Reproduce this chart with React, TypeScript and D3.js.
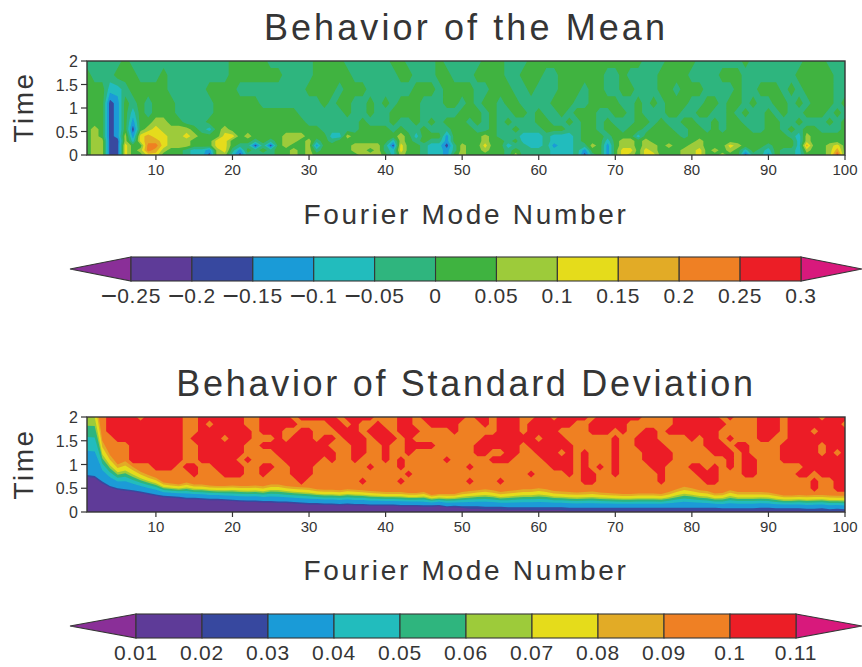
import React from "react";
import * as d3 from "d3";

const W = 862, H = 667;

// ---------- top panel: mean, read as band letters per Fourier mode (1..100), by time row
const meanTimes = [2, 1.7, 1.4, 1.1, 0.9, 0.7, 0.55, 0.4, 0.3, 0.2, 0.1, 0];
const meanRows = [
  "fffffgffff fffffffffg ggggffffff ggggffffff ggffffgfff ffgggfffgg gggggggggg gggfffgggg ffffffgfff ffffgggfff",
  "gfffgggfff gffffffffg ggggggffff gggggfffff fggfffggff fggggffggg ffggggggff gffffggggf fffgggffff fffgggggff",
  "gggeefgggg gfffffgggg fffffffffg gggfgggfff fffgggfggg gffgggffgf ffgggfggff ggfffggfgg gffffgffgg gfgfggggff",
  "gggcdgfgfg ggfffffggg gggfffffff fgfggffgfg fgggfffggf gfggfggfff fgggffgggg ffgfgfgggf fggfggfgff ggfgfgggfg",
  "gggcdgegfg ggfffffggg ggggggggff ffffgffgff ggggfffffg ggfgffggfg ffgfgggffg gfgfffggff ggffgfgffg fgffgggfgf",
  "gggcdgdggh hggfffgggg gggggggggf ffffffgfff gffgfgfggg fgfgfgfffg gffgfggfgf ffggfgffgg ffgfggfffg gffgfffgfg",
  "ghgcdgcghi hhhhgfeghg gggggggggg gfffffgggg fgffgfffgg gffgffgfff gggffggfgg fggfgggffg gfgfgggffg gfgfggfffg",
  "ghgcdhdiji ihhihgggii ghgggghhhg ggeehggggg ghgegggdgg gghgfffeee feeefgggfg ggegggggfg gggggggggg ggfehggggg",
  "ghhccheijj ihhhgggiig ggfgfghhgh fgfggggggg ehgfgffdgg gghggfgeee feeefgggeg hhghgggggg hggggggggg gggehggggg",
  "ghhcciggkk ihhhgggiig ffcfcghggh dgggghhhhf ciggfeecfh ggiggeffee fdeeffhgdg hhghhghggh hgggihgggf gggejgghig",
  "ghhccighkj hggfeedhif dgfgfgghgh fgggghhghf eiggfeedfh gghggfgfff feeefdggdg iigihggghh ighghgegfe gffehgghjg",
  "ghhcciggii gggfeechhe cffffgghgh gggggghhhg ehggfeedgh gggggfhfff feeefcfgdg ihgiiggghh igghggcffd gffeggghlg",
];
const meanBandLetters = "abcdefghijklm";
const meanBandValues = [-0.275, -0.225, -0.175, -0.125, -0.075, -0.025, 0.025, 0.075, 0.125, 0.175, 0.225, 0.275, 0.325];
const meanLevels = [-0.25, -0.2, -0.15, -0.1, -0.05, 0, 0.05, 0.1, 0.15, 0.2, 0.25, 0.3];
const meanLabels = ["\u22120.25", "\u22120.2", "\u22120.15", "\u22120.1", "\u22120.05", "0", "0.05", "0.1", "0.15", "0.2", "0.25", "0.3"];
const meanColors = ["#8a2f98", "#5e3b98", "#37489f", "#1a9bd7", "#22bcbd", "#2fb57e", "#3fb340", "#9dcb3a", "#e5dc1b", "#e2ab26", "#ef8024", "#ec1e26", "#d8197c"];

// ---------- bottom panel: standard deviation
const sdTimes = [2, 1.85, 1.7, 1.55, 1.4, 1.25, 1.1, 0.95, 0.8, 0.65, 0.5, 0.35];
const sdRedRows = [
  "ooorrrrorr rrroorrrrr roorrrrorr rrrorrrroo orrorrrrrr orrorrroor rorrrrorrr rrroooorrr rrrorooorr rorrrrorrr",
  "ooorrrrrrr rrroororrr roorrrrroo oorrorooro orroorrrro oororrrorr rrrroorrrr roooooorrr rrrroooorr rorrrrrrro",
  "ooorrrrrrr rrroorrrrr rrorrroorr ooorrrorrr orrrooooro oooorrrorr rroooorrro roorrorrrr rrrooooorr rorrrorrrr",
  "oooorrrrrr rrrorrrror rrooororrr orrorrrorr rorooooooo oorrrrrrro rrroooooor oorrroooor orrorooorr oorrrrrrrr",
  "oooooorrrr rrroorrrrr roorrrrrrr rrooorroor oorrrroooo orrrrrrorr rrrrooooor oorrrroooo orrrorrooo orrrrrorrr",
  "oooooorrrr rrroorrrrr roooorrrrr rrroorroor oorooooooo orroorroor rrororooor ooorrrrooo oorrrorooo orrrrroror",
  "oooooorrrr rrroorrrrr oroooorrrr roroorooor oroooooroo ooorrroooo rrrrorooor ooorrrrooo oooororroo orrrrrrrrr",
  "ooooooooor rrorroorrr roorroorrr oooooooroo oroooooooo rooooooooo orrrororor oooorrooor rorororroo oooorrrrrr",
  "oooooooooo oooorooorr roorooorrr oooooooooo oorooooooo ooooooooro ooororroor oooooroooo rrrooorroo ooorrorrrr",
  "oooooooooo oooooooooo ooooooooro oooooorooo oroooooooo rooorooooo ooooorrooo oooooroooo orrooooooo oooooroorr",
  "oooooooooo oooooooooo oooooooooo oooooooooo oooooooooo oooooooooo oooooooooo oooooooooo oooooooooo oooooroorr",
  "oooooooooo oooooooooo oooooooooo oooooooooo oooooooooo oooooooooo oooooooooo oooooooooo oooooooooo oooooooooo",
];
const purpleTop = [
  0.74, 0.72, 0.6, 0.52, 0.47, 0.45, 0.43, 0.4, 0.37, 0.34,
  0.31, 0.3, 0.29, 0.27, 0.27, 0.26, 0.25, 0.25, 0.24, 0.23,
  0.22, 0.21, 0.21, 0.2, 0.2, 0.19, 0.19, 0.18, 0.17, 0.16,
  0.16, 0.15, 0.15, 0.14, 0.15, 0.14, 0.14, 0.13, 0.13, 0.13,
  0.13, 0.12, 0.12, 0.12, 0.11, 0.11, 0.12, 0.1, 0.1, 0.09,
  0.07, 0.07, 0.06, 0.06, 0.06, 0.05, 0.05, 0.05, 0.04, 0.04,
  0.04, 0.04, 0.04, 0.03, 0.03, 0.03, 0.03, 0.03, 0.03, 0.03,
  0.03, 0.03, 0.03, 0.03, 0.03, 0.03, 0.03, 0.03, 0.03, 0.03,
  0.03, 0.03, 0.03, 0.03, 0.03, 0.03, 0.03, 0.03, 0.03, 0.03,
  0.03, 0.03, 0.03, 0.03, 0.02, 0.02, 0.02, 0.02, 0.02, 0.02,
];
const blueTop = [
  0.78, 0.76, 0.64, 0.55, 0.5, 0.48, 0.46, 0.43, 0.4, 0.37,
  0.34, 0.33, 0.32, 0.3, 0.3, 0.29, 0.28, 0.28, 0.27, 0.26,
  0.25, 0.24, 0.24, 0.23, 0.23, 0.22, 0.22, 0.21, 0.2, 0.19,
  0.19, 0.18, 0.18, 0.17, 0.18, 0.17, 0.17, 0.16, 0.16, 0.16,
  0.16, 0.15, 0.15, 0.15, 0.14, 0.14, 0.15, 0.12, 0.13, 0.12,
  0.12, 0.12, 0.11, 0.11, 0.11, 0.1, 0.1, 0.1, 0.1, 0.1,
  0.1, 0.1, 0.1, 0.09, 0.09, 0.09, 0.09, 0.09, 0.09, 0.09,
  0.09, 0.09, 0.09, 0.09, 0.09, 0.09, 0.09, 0.09, 0.09, 0.09,
  0.09, 0.09, 0.09, 0.08, 0.08, 0.08, 0.08, 0.08, 0.09, 0.09,
  0.08, 0.08, 0.08, 0.08, 0.07, 0.07, 0.08, 0.06, 0.07, 0.06,
];
const orangeFloor = [
  2.6, 2.6, 1.5, 1.2, 1.0, 1.07, 0.95, 0.85, 0.78, 0.72,
  0.62, 0.6, 0.58, 0.62, 0.58, 0.58, 0.56, 0.55, 0.55, 0.56,
  0.55, 0.55, 0.56, 0.54, 0.58, 0.58, 0.55, 0.53, 0.52, 0.51,
  0.48, 0.47, 0.47, 0.46, 0.48, 0.47, 0.46, 0.44, 0.43, 0.42,
  0.42, 0.42, 0.4, 0.4, 0.42, 0.36, 0.38, 0.38, 0.38, 0.42,
  0.44, 0.46, 0.48, 0.46, 0.42, 0.44, 0.46, 0.48, 0.48, 0.5,
  0.48, 0.44, 0.43, 0.42, 0.41, 0.42, 0.43, 0.41, 0.4, 0.39,
  0.38, 0.38, 0.39, 0.39, 0.39, 0.38, 0.42, 0.48, 0.53, 0.5,
  0.46, 0.44, 0.39, 0.4, 0.46, 0.42, 0.42, 0.42, 0.42, 0.41,
  0.38, 0.35, 0.35, 0.36, 0.35, 0.36, 0.36, 0.35, 0.34, 0.34,
];
// share of the blue-to-orange gap occupied up to each of the light blue .. gold edges
const bandShares = [0.28, 0.44, 0.57, 0.67, 0.85, 1];
const sdLabels = ["0.01", "0.02", "0.03", "0.04", "0.05", "0.06", "0.07", "0.08", "0.09", "0.1", "0.11"];
const sdColors = ["#8a2f98", "#5e3b98", "#37489f", "#1a9bd7", "#22bcbd", "#2fb57e", "#9dcb3a", "#e5dc1b", "#e2ab26", "#ef8024", "#ec1e26", "#d8197c"];

const modeTicks = [10, 20, 30, 40, 50, 60, 70, 80, 90, 100];
const timeTicks = [0, 0.5, 1, 1.5, 2];
const modes = d3.range(1, 101);

const INK = "#353535";
const FONT = "'Liberation Sans', Arial, sans-serif";
const x = d3.scaleLinear().domain([1, 100]).range([87, 845]);
const yMean = d3.scaleLinear().domain([0, 2]).range([155, 61]);
const ySd = d3.scaleLinear().domain([0, 2]).range([512, 417]);

function contourPaths(values: number[], times: number[], levels: number[], y: d3.ScaleLinear<number, number>) {
  const nx = values.length / times.length;
  const ny = times.length;
  const rowTime = d3.scaleLinear<number>().domain(times.map((_, i) => i)).range(times);
  const proj = d3.geoTransform({
    point(px: number, py: number) {
      const m = Math.max(0, Math.min(nx - 1, px - 0.5)) + 1;
      const r = Math.max(0, Math.min(ny - 1, py - 0.5));
      (this as any).stream.point(x(m), y(rowTime(r)));
    },
  });
  const path = d3.geoPath(proj);
  const cs = d3.contours().size([nx, ny]).thresholds(levels)(values);
  return cs.map((c) => path(c) || "");
}

function parse(rows: string[], f: (ch: string) => number) {
  return rows.flatMap((r) => r.replace(/ /g, "").split("").map(f));
}

function Frame({ y, title, titleY, titleSpacing, xTitleY, timeY }: any) {
  const [y0, y1] = y.range();
  return (
    <g>
      <rect x={87} y={y1} width={758} height={y0 - y1} fill="none" stroke={INK} strokeWidth={1.4} />
      {modeTicks.map((t) => (
        <g key={t}>
          <line x1={x(t)} x2={x(t)} y1={y0} y2={y0 + 5} stroke={INK} strokeWidth={1.2} />
          <text x={x(t)} y={y0 + 20} textAnchor="middle" fontSize={15} fill={INK} fontFamily={FONT}>{t}</text>
        </g>
      ))}
      {timeTicks.map((t) => (
        <g key={t}>
          <line x1={81} x2={87} y1={y(t)} y2={y(t)} stroke={INK} strokeWidth={1.2} />
          <text x={78} y={y(t) + 6} textAnchor="end" fontSize={16} fill={INK} fontFamily={FONT}>{t}</text>
        </g>
      ))}
      <text x={466} y={titleY} textAnchor="middle" fontSize={36} letterSpacing={titleSpacing} fill={INK} fontFamily={FONT}>{title}</text>
      <text x={466} y={xTitleY} textAnchor="middle" fontSize={28} letterSpacing={2.7} fill={INK} fontFamily={FONT}>Fourier Mode Number</text>
      <text transform={`translate(33,${timeY}) rotate(-90)`} textAnchor="middle" fontSize={28} letterSpacing={2.4} fill={INK} fontFamily={FONT}>Time</text>
    </g>
  );
}

function ColorBar({ x0, x1, y0, y1, colors, labels, labelY }: any) {
  const n = labels.length - 1;
  const bx = d3.scaleLinear().domain([0, n]).range([x0, x1]);
  const mid = (y0 + y1) / 2;
  const d = d3.line();
  return (
    <g stroke={INK} strokeWidth={1.1}>
      <path d={d([[x0, y0], [70, mid], [x0, y1]])! + "Z"} fill={colors[0]} />
      <path d={d([[x1, y0], [862, mid], [x1, y1]])! + "Z"} fill={colors[colors.length - 1]} />
      {d3.range(n).map((i) => (
        <rect key={i} x={bx(i)} y={y0} width={bx(i + 1) - bx(i)} height={y1 - y0} fill={colors[i + 1]} />
      ))}
      {labels.map((l: string, i: number) => {
        const neg = l.startsWith("\u2212");
        return (
          <text key={l} x={bx(i)} y={labelY} textAnchor="middle" fontSize={21} letterSpacing={0.8} fill={INK} stroke="none" fontFamily={FONT}>
            {neg ? <tspan fontSize={28} dy={2} letterSpacing={0}>{l[0]}</tspan> : null}
            {neg ? <tspan dy={-2}>{l.slice(1)}</tspan> : l}
          </text>
        );
      })}
    </g>
  );
}

export default function App() {
  const meanValues = parse(meanRows, (c) => meanBandValues[meanBandLetters.indexOf(c)]);
  const meanPaths = contourPaths(meanValues, meanTimes, meanLevels, yMean);

  const sdValues = parse(sdRedRows, (c) => (c === "r" ? 0.105 : 0.095));
  const redPath = contourPaths(sdValues, sdTimes, [0.1], ySd)[0];

  const edge = (k: number, s: number) => blueTop[k] + s * (orangeFloor[k] - blueTop[k]);
  const area = (top: (k: number) => number) =>
    d3.area<number>().x((m) => x(m)).y0(ySd(0)).y1((m) => ySd(top(m - 1)))(modes) || "";
  const bandAreas = [
    { c: sdColors[8], d: area((k) => edge(k, bandShares[5])) },
    { c: sdColors[7], d: area((k) => edge(k, bandShares[4])) },
    { c: sdColors[6], d: area((k) => edge(k, bandShares[3])) },
    { c: sdColors[5], d: area((k) => edge(k, bandShares[2])) },
    { c: sdColors[4], d: area((k) => edge(k, bandShares[1])) },
    { c: sdColors[3], d: area((k) => edge(k, bandShares[0])) },
    { c: sdColors[2], d: area((k) => blueTop[k]) },
    { c: sdColors[1], d: area((k) => purpleTop[k]) },
  ];

  return (
    <svg width={W} height={H} viewBox={`0 0 ${W} ${H}`} style={{ position: "absolute", left: 0, top: 0, background: "#fff" }}>
      <defs>
        <clipPath id="clipSd"><rect x={87} y={417} width={758} height={95} /></clipPath>
        <filter id="soft" x="0" y="0" width="1" height="1"><feGaussianBlur stdDeviation={0.6} /></filter>
      </defs>
      <g filter="url(#soft)">
        <rect x={87} y={61} width={758} height={94} fill={meanColors[0]} />
        {meanPaths.map((d, i) => <path key={i} d={d} fill={meanColors[i + 1]} />)}
      </g>
      <g clipPath="url(#clipSd)">
        <g filter="url(#soft)">
          <rect x={87} y={417} width={758} height={95} fill={sdColors[9]} />
          <path d={redPath} fill={sdColors[10]} />
          {bandAreas.map((b, i) => <path key={i} d={b.d} fill={b.c} />)}
        </g>
      </g>
      <Frame y={yMean} title="Behavior of the Mean" titleY={40} titleSpacing={3.1} xTitleY={224} timeY={107} />
      <Frame y={ySd} title="Behavior of Standard Deviation" titleY={396} titleSpacing={2.7} xTitleY={580} timeY={464} />
      <ColorBar x0={131} x1={801} y0={257} y1={281} colors={meanColors} labels={meanLabels} labelY={303} />
      <ColorBar x0={136} x1={796} y0={614} y1={638} colors={sdColors} labels={sdLabels} labelY={660} />
    </svg>
  );
}
